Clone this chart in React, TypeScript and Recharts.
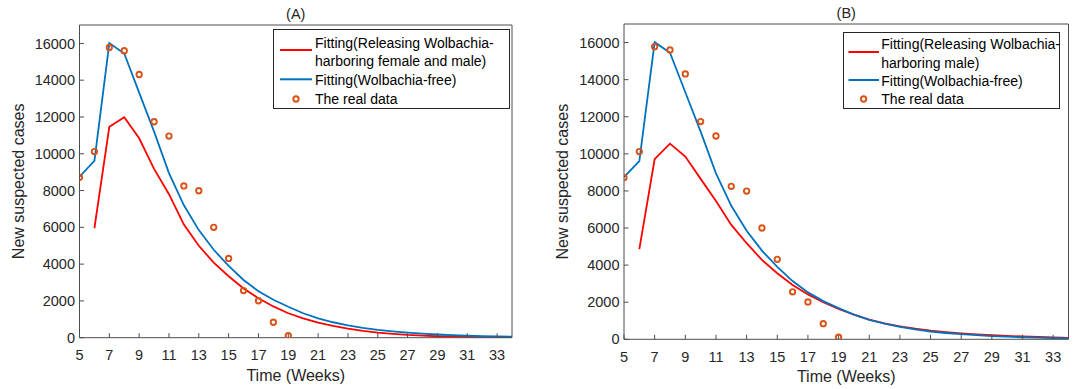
import { LineChart, Line, XAxis, YAxis, Legend } from "recharts";

// weeks on the time axis
const weeks = [5, 6, 7, 8, 9, 10, 11, 12, 13, 14, 15, 16, 17, 18, 19, 20, 21, 22, 23, 24, 25, 26, 27, 28, 29, 30, 31, 32, 33, 34];
const fitWeeks = [6, 7, 8, 9, 10, 11, 12, 13, 14, 15, 16, 17, 18, 19, 20, 21, 22, 23, 24, 25, 26, 27, 28, 29, 30, 31, 32, 33, 34];
const realWeeks = [5, 6, 7, 8, 9, 10, 11, 12, 13, 14, 15, 16, 17, 18, 19];

// Fitting(Wolbachia-free), same curve in both panels
const wolbachiaFree = [8750, 9610, 16020, 15450, 13320, 11200, 8950, 7200, 5850, 4780, 3900, 3140, 2530, 2060, 1680, 1330, 1050, 840, 670, 530, 420, 340, 275, 220, 175, 140, 110, 90, 70, 55];
// (A) releasing Wolbachia-harboring female and male
const releaseFemaleMale = [5950, 11470, 11990, 10840, 9180, 7800, 6150, 5000, 4080, 3340, 2680, 2140, 1700, 1330, 1050, 820, 640, 490, 370, 280, 210, 150, 110, 80, 60, 45, 32, 22, 16];
// (B) releasing Wolbachia-harboring male
const releaseMale = [4860, 9710, 10550, 9850, 8650, 7460, 6170, 5180, 4280, 3560, 2930, 2420, 2000, 1640, 1330, 1060, 860, 700, 570, 465, 385, 320, 265, 220, 185, 150, 125, 100, 80];
// new suspected cases reported
const realData = [8720, 10120, 15780, 15600, 14310, 11740, 10960, 8250, 7990, 6000, 4310, 2560, 2010, 840, 110];

const xTicks = [5, 7, 9, 11, 13, 15, 17, 19, 21, 23, 25, 27, 29, 31, 33];
const yTicks = [0, 2000, 4000, 6000, 8000, 10000, 12000, 14000, 16000];

const RED = "#ff0000";
const BLUE = "#0072bd";
const ORANGE = "#d95319";
const INK = "#262626";
const AXIS = "#4d4d4d";
const FONT = "'Liberation Sans', Arial, Helvetica, sans-serif";

const rows = (xs: number[], ys: number[]) => xs.map((t, i) => ({ t, v: ys[i] }));

const freeRows = rows(weeks, wolbachiaFree);
const realRows = rows(realWeeks, realData);

type LegendCfg = {
  left: number; top: number; w: number; h: number;
  lineX0: number; lineX1: number; textX: number; circleX: number;
  rowsY: number[]; redY: number; blueY: number;
};

function LegendBox({ cfg, redText }: { cfg: LegendCfg; redText: string[] }) {
  const fs = 14;
  return (
    <svg width={cfg.w} height={cfg.h} style={{ display: "block", fontFamily: FONT }}>
      <rect x={0.5} y={0.5} width={cfg.w - 1} height={cfg.h - 1} fill="#fff" stroke={INK} strokeWidth={1} />
      <line x1={cfg.lineX0} x2={cfg.lineX1} y1={cfg.redY} y2={cfg.redY} stroke={RED} strokeWidth={2} />
      <line x1={cfg.lineX0} x2={cfg.lineX1} y1={cfg.blueY} y2={cfg.blueY} stroke={BLUE} strokeWidth={2} />
      <circle cx={cfg.circleX} cy={cfg.rowsY[3]} r={2.7} fill="none" stroke={ORANGE} strokeWidth={1.9} />
      {[redText[0], redText[1], "Fitting(Wolbachia-free)", "The real data"].map((s, i) => (
        <text key={i} x={cfg.textX} y={cfg.rowsY[i]} fontSize={fs} fill="#000" dominantBaseline="central">{s}</text>
      ))}
    </svg>
  );
}

type PanelProps = {
  title: string;
  redText: string[];
  redValues: number[];
  left: number;
  width: number;
  top: number;
  right: number;
  yAxisWidth: number;
  xAxisHeight: number;
  yLabelX: number;
  legend: LegendCfg;
};

function Panel(p: PanelProps) {
  const redRows = rows(fitWeeks, p.redValues);
  const tickStyle = { fontSize: 14.5, fill: INK, fontFamily: FONT };
  // top/right axes get 1px so recharts draws them (box with inward ticks)
  return (
    <div style={{ position: "absolute", left: p.left, top: 0 }}>
      <LineChart width={p.width} height={389} margin={{ top: p.top - 1, right: p.right - 1, bottom: 0, left: 0 }}>
        <XAxis
          xAxisId="b"
          dataKey="t"
          type="number"
          domain={[5, 34]}
          ticks={xTicks}
          allowDataOverflow
          height={p.xAxisHeight}
          tickSize={-4.5}
          tickMargin={17}
          tick={tickStyle}
          stroke={AXIS}
          label={({ viewBox }: any) => (
            <text x={viewBox.x + viewBox.width / 2} y={viewBox.y + 43} textAnchor="middle" fontSize={16} fill={INK} fontFamily={FONT}>
              Time (Weeks)
            </text>
          )}
        />
        <XAxis
          xAxisId="top"
          orientation="top"
          dataKey="t"
          type="number"
          domain={[5, 34]}
          ticks={xTicks}
          allowDataOverflow
          height={1}
          tickSize={-4.5}
          tick={false}
          stroke={AXIS}
          label={({ viewBox }: any) => (
            <text x={viewBox.x + viewBox.width / 2} y={viewBox.y + viewBox.height - 6.2} textAnchor="middle" fontSize={14.5} fill={INK} fontFamily={FONT}>
              {p.title}
            </text>
          )}
        />
        <YAxis
          yAxisId="l"
          type="number"
          domain={[0, 17000]}
          ticks={yTicks}
          allowDataOverflow
          width={p.yAxisWidth}
          tickSize={-4.5}
          tickMargin={9}
          tick={tickStyle}
          stroke={AXIS}
          label={({ viewBox }: any) => {
            const cx = viewBox.x + p.yLabelX;
            const cy = viewBox.y + viewBox.height / 2;
            return (
              <text x={cx} y={cy} transform={`rotate(-90, ${cx}, ${cy})`} textAnchor="middle" dominantBaseline="central" fontSize={16} fill={INK} fontFamily={FONT}>
                New suspected cases
              </text>
            );
          }}
        />
        <YAxis
          yAxisId="r"
          orientation="right"
          type="number"
          domain={[0, 17000]}
          ticks={yTicks}
          allowDataOverflow
          width={1}
          tickSize={-4.5}
          tick={false}
          stroke={AXIS}
        />
        <Line xAxisId="b" yAxisId="l" data={redRows} dataKey="v" type="linear" stroke={RED} strokeWidth={1.8} dot={false} isAnimationActive={false} />
        <Line xAxisId="b" yAxisId="l" data={freeRows} dataKey="v" type="linear" stroke={BLUE} strokeWidth={1.8} dot={false} isAnimationActive={false} />
        <Line
          xAxisId="b"
          yAxisId="l"
          data={realRows}
          dataKey="v"
          type="linear"
          stroke="none"
          dot={{ r: 2.7, stroke: ORANGE, strokeWidth: 1.9, fill: "none" }}
          isAnimationActive={false}
        />
        <Line xAxisId="top" yAxisId="r" data={freeRows} dataKey="v" stroke="none" dot={false} isAnimationActive={false} legendType="none" />
        <Legend
          layout="vertical"
          align="center"
          verticalAlign="middle"
          wrapperStyle={{ left: p.legend.left, top: p.legend.top, width: p.legend.w, height: p.legend.h }}
          content={() => <LegendBox cfg={p.legend} redText={p.redText} />}
        />
      </LineChart>
    </div>
  );
}

export default function App() {
  return (
    <div style={{ position: "absolute", left: 0, top: 0, width: 1074, height: 389, background: "#fff", fontFamily: FONT }}>
      <Panel
        title="(A)"
        redText={["Fitting(Releasing Wolbachia-", "harboring female and male)"]}
        redValues={releaseFemaleMale}
        left={0}
        width={537}
        top={25}
        right={25}
        yAxisWidth={79.5}
        xAxisHeight={51.3}
        yLabelX={19}
        legend={{ left: 273, top: 29, w: 237, h: 80, lineX0: 7, lineX1: 39, textX: 42, circleX: 23, rowsY: [13.7, 32, 51, 70], redY: 21, blueY: 50.3 }}
      />
      <Panel
        title="(B)"
        redText={["Fitting(Releasing Wolbachia-", "harboring male)"]}
        redValues={releaseMale}
        left={537}
        width={537}
        top={24}
        right={5.5}
        yAxisWidth={87}
        xAxisHeight={49.7}
        yLabelX={26}
        legend={{ left: 306, top: 32, w: 217, h: 77, lineX0: 5.5, lineX1: 36, textX: 38.3, circleX: 20.6, rowsY: [12, 31.3, 49, 67], redY: 20, blueY: 48 }}
      />
    </div>
  );
}
